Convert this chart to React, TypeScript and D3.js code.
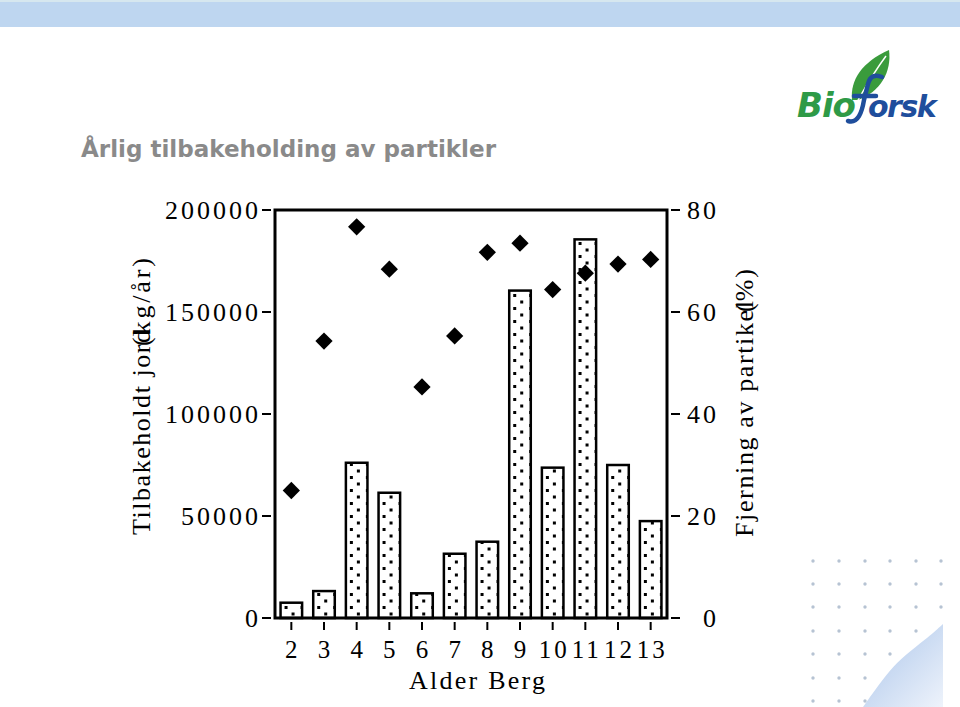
import React from "react";
import * as d3 from "d3";

const categories = ["2", "3", "4", "5", "6", "7", "8", "9", "10", "11", "12", "13"];
const retainedSoil = [7500, 13200, 76100, 61400, 12100, 31500, 37400, 160500, 73700, 185600, 75000, 47500];
const particleRemoval = [25.0, 54.3, 76.7, 68.4, 45.3, 55.3, 71.7, 73.5, 64.4, 67.6, 69.4, 70.3];
const leftTicks = [0, 50000, 100000, 150000, 200000];
const rightTicks = [0, 20, 40, 60, 80];
const dotCols = [813, 839, 865, 890, 916, 941];
const dotRows = [561, 584, 607, 631, 654, 678, 701];

const W = 960;
const H = 707;
const plot = { left: 275, right: 667, top: 210, bottom: 618 };
const serif = "'Liberation Serif', 'Times New Roman', serif";

export default function App() {
  const x = d3
    .scaleBand<string>()
    .domain(categories)
    .range([plot.left, plot.right])
    .paddingInner(0.34)
    .paddingOuter(0.17);
  const yL = d3.scaleLinear().domain([0, 200000]).range([plot.bottom, plot.top]);
  const yR = d3.scaleLinear().domain([0, 80]).range([plot.bottom, plot.top]);
  const center = (c: string) => (x(c) ?? 0) + x.bandwidth() / 2;
  const diamond = d3.symbol().type(d3.symbolDiamond2).size(190)();

  const wave = d3.line().curve(d3.curveBasis)([
    [863, 707],
    [875, 690],
    [890, 670],
    [905, 655],
    [925, 640],
    [943, 624],
  ]);

  return (
    <svg
      width={W}
      height={H}
      style={{ position: "absolute", left: 0, top: 0, background: "#fff" }}
    >
      <defs>
        {categories.map((c, i) => (
          <pattern
            key={c}
            id={`dots${i}`}
            patternUnits="userSpaceOnUse"
            x={x(c)}
            y={plot.bottom}
            width={16}
            height={13}
          >
            <rect x={4} y={1} width={3} height={3} fill="#000" />
            <rect x={11} y={7.5} width={3} height={3} fill="#000" />
          </pattern>
        ))}
        <linearGradient id="waveGrad" x1="0" y1="0" x2="1" y2="1">
          <stop offset="0" stopColor="#a9c4ea" />
          <stop offset="1" stopColor="#eef3fb" />
        </linearGradient>
      </defs>

      {/* top banner */}
      <rect x={0} y={0} width={W} height={2} fill="#d6e7ef" />
      <rect x={0} y={2} width={W} height={25} fill="#bed6f0" />

      {/* logo */}
      <g>
        <path
          d="M852,100 C850,80 862,62 889,50 C892,72 880,92 858,100 Z"
          fill="#3a9b3c"
        />
        <path
          d="M858,100 C866,86 874,72 886,56"
          stroke="#fff"
          strokeWidth={1.5}
          fill="none"
        />
        <text
          x={797}
          y={117}
          fontFamily="'DejaVu Sans', sans-serif"
          fontWeight="bold"
          fontStyle="italic"
          fontSize={34}
          fill="#2e9a47"
          letterSpacing={-1}
        >
          Bio
        </text>
        <path
          d="M848,121 C858,124 862,112 864,100 L868,84 C870,76 875,74 882,77 M854,96 L876,96"
          stroke="#1f4e9c"
          strokeWidth={4.5}
          fill="none"
          strokeLinecap="round"
        />
        <text
          x={868}
          y={117}
          fontFamily="'DejaVu Sans', sans-serif"
          fontWeight="bold"
          fontStyle="italic"
          fontSize={30}
          fill="#1f4e9c"
          letterSpacing={-1.5}
        >
          orsk
        </text>
      </g>

      {/* title */}
      <text
        x={81}
        y={157}
        fontFamily="'DejaVu Sans', Verdana, sans-serif"
        fontWeight="bold"
        fontSize={23}
        fill="#8a8a8a"
        textLength={415}
        lengthAdjust="spacingAndGlyphs"
      >
        Årlig tilbakeholding av partikler
      </text>

      {/* bottom-right decoration */}
      {dotRows.map((ry) =>
        dotCols.map((cx) => (
          <circle key={`${cx}-${ry}`} cx={cx} cy={ry} r={1.7} fill="#b6c3d3" />
        ))
      )}
      <path d={`${wave} L943,707 Z`} fill="url(#waveGrad)" />

      {/* bars */}
      {categories.map((c, i) => (
        <rect
          key={c}
          x={x(c)}
          y={yL(retainedSoil[i])}
          width={x.bandwidth()}
          height={plot.bottom - yL(retainedSoil[i])}
          fill={`url(#dots${i})`}
          stroke="#000"
          strokeWidth={2.5}
        />
      ))}

      {/* diamonds */}
      {categories.map((c, i) => (
        <path
          key={c}
          d={diamond ?? ""}
          transform={`translate(${center(c)},${yR(particleRemoval[i])})`}
          fill="#000"
        />
      ))}

      {/* frame */}
      <rect
        x={plot.left}
        y={plot.top}
        width={plot.right - plot.left}
        height={plot.bottom - plot.top}
        fill="none"
        stroke="#000"
        strokeWidth={3}
      />

      {/* left axis */}
      {leftTicks.map((t) => (
        <g key={t}>
          <line x1={262} x2={271} y1={yL(t)} y2={yL(t)} stroke="#000" strokeWidth={2} />
          <text
            x={261}
            y={yL(t) + 9}
            textAnchor="end"
            fontFamily={serif}
            fontSize={26}
            letterSpacing={3}
            fill="#000"
          >
            {t}
          </text>
        </g>
      ))}

      {/* right axis */}
      {rightTicks.map((t) => (
        <g key={t}>
          <line x1={671} x2={680} y1={yR(t)} y2={yR(t)} stroke="#000" strokeWidth={2} />
          <text
            x={719}
            y={yR(t) + 9}
            textAnchor="end"
            fontFamily={serif}
            fontSize={26}
            letterSpacing={3}
            fill="#000"
          >
            {t}
          </text>
        </g>
      ))}

      {/* bottom axis */}
      {categories.map((c) => (
        <g key={c}>
          <line
            x1={center(c)}
            x2={center(c)}
            y1={622}
            y2={630}
            stroke="#000"
            strokeWidth={2}
          />
          <text
            x={center(c) + 1.5}
            y={658}
            textAnchor="middle"
            fontFamily={serif}
            fontSize={25}
            letterSpacing={3}
            fill="#000"
          >
            {c}
          </text>
        </g>
      ))}

      <text
        x={409}
        y={689}
        fontFamily={serif}
        fontSize={26}
        fill="#000"
        textLength={136}
        lengthAdjust="spacing"
      >
        Alder Berg
      </text>

      {/* left axis title */}
      <text
        transform="translate(150,535) rotate(-90)"
        fontFamily={serif}
        fontSize={26}
        fill="#000"
        textLength={205}
        lengthAdjust="spacing"
      >
        Tilbakeholdt jord
      </text>
      <text
        transform="translate(150,346) rotate(-90)"
        fontFamily={serif}
        fontSize={26}
        fill="#000"
        textLength={88}
        lengthAdjust="spacing"
      >
        (kg/år)
      </text>

      {/* right axis title */}
      <text
        transform="translate(753,537) rotate(-90)"
        fontFamily={serif}
        fontSize={26}
        fill="#000"
        textLength={236}
        lengthAdjust="spacing"
      >
        Fjerning av partikel
      </text>
      <text
        transform="translate(753,312) rotate(-90)"
        fontFamily={serif}
        fontSize={26}
        fill="#000"
        textLength={43}
        lengthAdjust="spacing"
      >
        (%)
      </text>
    </svg>
  );
}
